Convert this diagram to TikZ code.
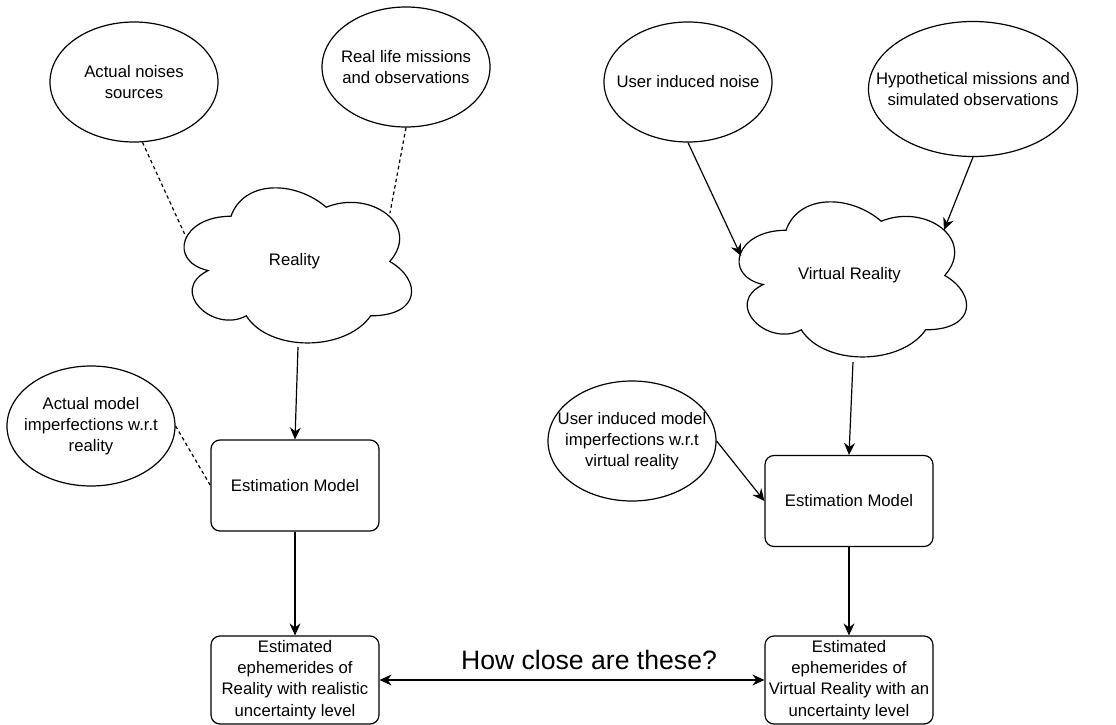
\documentclass[tikz,border=0pt]{standalone}
\usepackage{fontspec}
\setmainfont{Liberation Sans}
\usetikzlibrary{shapes.geometric,arrows.meta,calc}
\newcommand{\dcloud}[4]{%
 \draw[line width=1.2pt] ({#1+0.25*#3},{#2+0.25*#4})
  .. controls ({#1+0.05*#3},{#2+0.25*#4}) and ({#1},{#2+0.5*#4}) .. ({#1+0.16*#3},{#2+0.55*#4})
  .. controls ({#1},{#2+0.66*#4}) and ({#1+0.18*#3},{#2+0.9*#4}) .. ({#1+0.31*#3},{#2+0.8*#4})
  .. controls ({#1+0.4*#3},{#2+#4}) and ({#1+0.7*#3},{#2+#4}) .. ({#1+0.8*#3},{#2+0.8*#4})
  .. controls ({#1+#3},{#2+0.8*#4}) and ({#1+#3},{#2+0.6*#4}) .. ({#1+0.875*#3},{#2+0.5*#4})
  .. controls ({#1+#3},{#2+0.3*#4}) and ({#1+0.8*#3},{#2+0.1*#4}) .. ({#1+0.625*#3},{#2+0.2*#4})
  .. controls ({#1+0.5*#3},{#2+0.05*#4}) and ({#1+0.3*#3},{#2+0.05*#4}) .. cycle;}
\begin{document}
\begin{tikzpicture}[x=1pt,y=-1pt,
  every node/.style={font=\fontsize{16.7}{21.3}\selectfont, align=center, inner sep=0pt},
  ell/.style={draw, ellipse, line width=1.2pt, minimum width=168, minimum height=120},
  box/.style={draw, rounded corners=9, line width=1.2pt, minimum width=168, minimum height=91},
  cl/.style={minimum width=254, minimum height=181},
  arr/.style={line width=1.2pt, -{Stealth[length=12pt,width=11pt,inset=4pt]}},
  dblarr/.style={line width=1.2pt, {Stealth[length=12pt,width=11pt,inset=4pt]}-{Stealth[length=12pt,width=11pt,inset=4pt]}},
  dashline/.style={line width=1.2pt, dash pattern=on 3.5pt off 3pt}
]
\useasboundingbox (0,0) rectangle (1116,725);

% ellipses
\node[ell, label=center:{Actual noises\\sources}] (noise) at (134,82) {};
\node[ell, label=center:{Real life missions\\and observations}] (real) at (406,67) {};
\node[ell, label=center:{User induced noise}] (user) at (688,82) {};
\node[ell, minimum width=209, minimum height=135, label=center:{Hypothetical missions and\\simulated observations}] (hypo) at (973,89) {};
\node[ell, label=center:{Actual model\\imperfections w.r.t\\reality}] (amodel) at (91,426) {};
\node[ell, label=center:{User induced model\\imperfections w.r.t\\virtual reality}] (umodel) at (632,441) {};

% clouds
\dcloud{167.5}{171}{254}{181}
\node[cl] (reality) at (294.5,261.5) {Reality};
\dcloud{722.5}{185}{254}{181}
\node[cl] (vreal) at (849.5,275.5) {Virtual Reality};
\coordinate (rNW) at (186,237);
\coordinate (rNE) at (390,213);
\coordinate (rS) at (298,347);
\coordinate (vNW) at (741,256);
\coordinate (vNE) at (944,230);
\coordinate (vS) at (853,362);

% boxes
\node[box] (estL) at (295,485.5) {Estimation Model};
\node[box] (estR) at (849,501) {Estimation Model};
\node[box, minimum height=88] (botL) at (295,680) {Estimated\\ephemerides of\\Reality with realistic\\uncertainty level};
\node[box, minimum height=88] (botR) at (849,680) {Estimated\\ephemerides of\\Virtual Reality with an\\uncertainty level};

\node[font=\fontsize{26.6}{32}\selectfont, anchor=base] (q) at (589,669) {How close are these?};

% connectors
\draw[dashline] (noise.-82) -- (rNW);
\draw[dashline] (real.south) -- (rNE);
\draw[arr] (rS) -- (estL.north);
\draw[dashline] (amodel.east) -- (estL.west);
\draw[arr] (estL.south) -- (botL.north);
\draw[arr] (user.south) -- (vNW);
\draw[arr] (hypo.south) -- (vNE);
\draw[arr] (vS) -- (estR.north);
\draw[arr] (umodel.east) -- (estR.west);
\draw[arr] (estR.south) -- (botR.north);
\draw[dblarr] (botL.east) -- (botR.west);
\end{tikzpicture}
\end{document}
